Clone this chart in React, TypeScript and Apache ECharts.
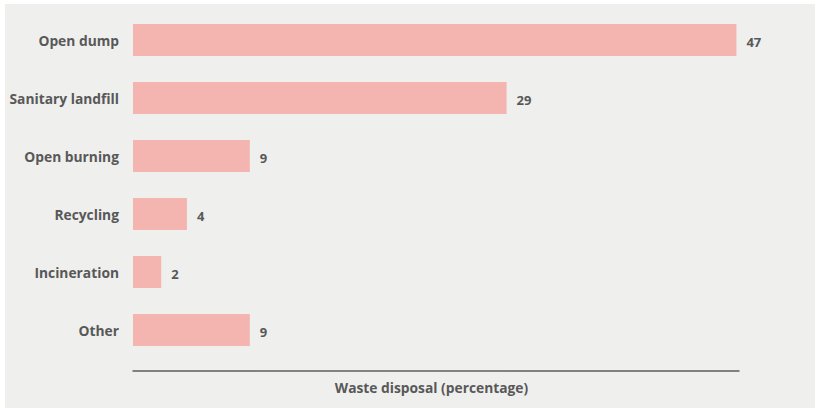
import React, { useEffect, useRef } from "react";
import * as echarts from "echarts";

const categories = ["Open dump", "Sanitary landfill", "Open burning", "Recycling", "Incineration", "Other"];
const values = [47, 29.1, 9.1, 4.2, 2.2, 9.1];
const valueLabels = ["47", "29", "9", "4", "2", "9"];
const axisTitle = "Waste disposal (percentage)";

const FONT = "'Open Sans', 'Noto Sans', sans-serif";
const TEXT = "#585858";

export default function App() {
  const ref = useRef<HTMLDivElement>(null);
  useEffect(() => {
    if (!ref.current) return;
    const chart = echarts.init(ref.current, null, { renderer: "svg" });
    chart.setOption({
      animation: false,
      graphic: [
        {
          type: "rect",
          z: -10,
          shape: { x: 5, y: 4, width: 810, height: 404 },
          style: { fill: "#efefee" },
          silent: true,
        },
      ],
      grid: { left: 133, right: 78, top: 11, bottom: 49, containLabel: false },
      xAxis: {
        type: "value",
        min: 0,
        max: 47.2,
        splitLine: { show: false },
        axisTick: { show: false },
        axisLabel: { show: false },
        axisLine: { show: true, onZero: false, lineStyle: { color: "#5e5e5e", width: 1.5 } },
        offset: 12,
        name: axisTitle,
        nameLocation: "middle",
        nameGap: 9,
        nameTextStyle: {
          fontFamily: FONT,
          fontWeight: "bold",
          fontSize: 13.8,
          color: TEXT,
          verticalAlign: "top",
          padding: [0, 9, 0, 0],
        },
      },
      yAxis: {
        type: "category",
        inverse: true,
        data: categories,
        axisLine: { show: false },
        axisTick: { show: false },
        splitLine: { show: false },
        axisLabel: {
          margin: 14,
          fontFamily: FONT,
          fontWeight: "bold",
          fontSize: 13.8,
          color: TEXT,
        },
      },
      series: [
        {
          type: "bar",
          data: values,
          barWidth: 32,
          itemStyle: { color: "#f4b5b1" },
          label: {
            show: true,
            position: "right",
            distance: 10,
            offset: [0, 2],
            fontFamily: FONT,
            fontWeight: "bold",
            fontSize: 13,
            color: TEXT,
            formatter: (p: any) => valueLabels[p.dataIndex],
          },
        },
      ],
    });
    return () => chart.dispose();
  }, []);
  return (
    <div
      ref={ref}
      style={{ position: "absolute", left: 0, top: 0, width: 817, height: 408 }}
    />
  );
}
